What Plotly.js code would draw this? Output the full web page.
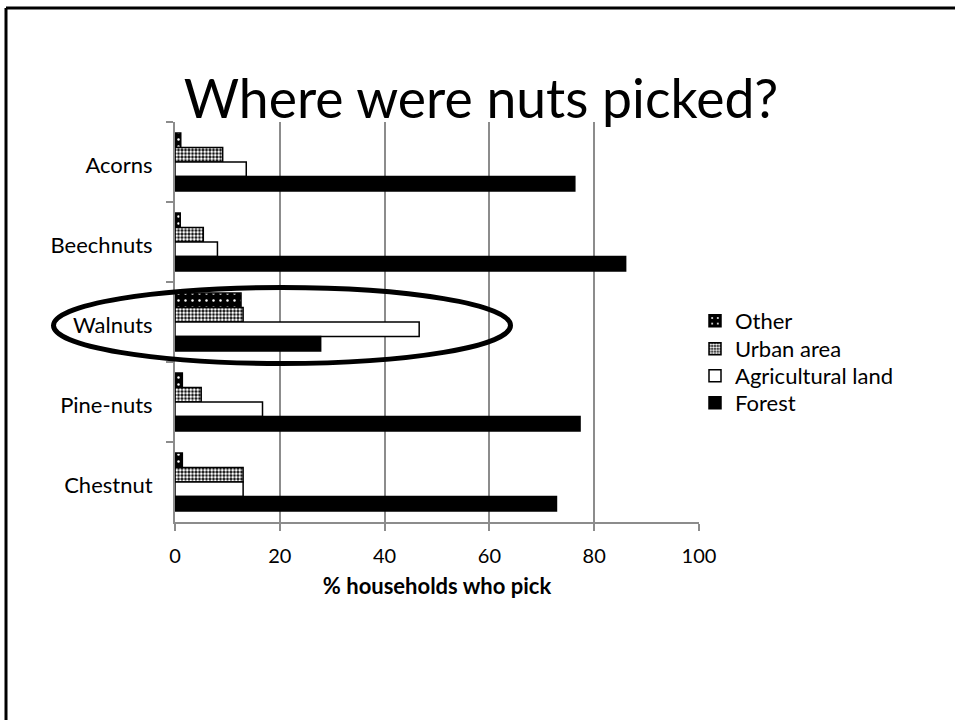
<!DOCTYPE html>
<html>
<head>
<meta charset="utf-8">
<script src="https://cdn.plot.ly/plotly-3.0.1.min.js"></script>
<style>
  html, body { margin: 0; padding: 0; background: #fff; }
  #chart { width: 955px; height: 720px; }
</style>
</head>
<body>
<div id="chart"></div>
<script>
// Nut types, top to bottom
const categories = ['Acorns', 'Beechnuts', 'Walnuts', 'Pine-nuts', 'Chestnut'];

// % of households picking each nut, by place of picking
const otherVals = [1.1, 1.0, 12.6, 1.4, 1.4];
const urbanVals = [9.1, 5.4, 13.0, 5.0, 13.0];
const agriVals = [13.6, 8.1, 46.6, 16.7, 13.0];
const forestVals = [76.3, 86.0, 27.8, 77.3, 72.8];

const xTickVals = [0, 20, 40, 60, 80, 100];

const FONT = 'Lato, "Open Sans", sans-serif';
const outline = { color: '#000', width: 1.5 };

// each series gets its own legend box so the entries can sit closer together
const traces = [
  {
    name: 'Other', x: otherVals, y: categories, type: 'bar', orientation: 'h',
    legend: 'legend',
    marker: { color: '#000', line: outline,
      pattern: { shape: '.', fgcolor: '#fff', bgcolor: '#000', size: 7, solidity: 0.1 } }
  },
  {
    name: 'Urban area', x: urbanVals, y: categories, type: 'bar', orientation: 'h',
    legend: 'legend2',
    marker: { color: '#000', line: outline,
      pattern: { shape: '.', fgcolor: '#fff', bgcolor: '#000', size: 3.5, solidity: 0.55 } }
  },
  {
    name: 'Agricultural land', x: agriVals, y: categories, type: 'bar', orientation: 'h',
    legend: 'legend3',
    marker: { color: '#fff', line: outline }
  },
  {
    name: 'Forest', x: forestVals, y: categories, type: 'bar', orientation: 'h',
    legend: 'legend4',
    marker: { color: '#000', line: outline }
  }
];

// plot-area geometry in pixels, used to place the frame, legend and highlight ellipse
const L = 175, T = 122, W = 524, H = 400;
const px = v => (v - L) / W;
const py = v => (T + H - v) / H;

const legendBox = centre => ({
  x: px(695), xanchor: 'left', y: py(centre - 21), yanchor: 'top',
  font: { size: 22 }, bgcolor: 'rgba(0,0,0,0)', borderwidth: 0, visible: true
});

const layout = {
  width: 955, height: 720,
  margin: { l: L, r: 955 - L - W, t: T, b: 720 - T - H },
  paper_bgcolor: '#fff', plot_bgcolor: '#fff',
  font: { family: FONT, color: '#000', size: 20 },
  showlegend: true,
  title: {
    text: 'Where were nuts picked?',
    font: { family: FONT, size: 53.5, color: '#000' },
    x: 481 / 955, xanchor: 'center', xref: 'container',
    y: 1 - 99 / 720, yanchor: 'middle', yref: 'container'
  },
  barmode: 'group', bargap: 0.275, bargroupgap: 0,
  xaxis: {
    range: [0, 100], tickvals: xTickVals, ticktext: xTickVals.map(String),
    showgrid: true, gridcolor: '#8c8c8c', gridwidth: 2,
    showline: true, linecolor: '#8c8c8c', linewidth: 2,
    ticks: 'outside', ticklen: 7, tickwidth: 2, tickcolor: '#8c8c8c',
    zeroline: false, tickfont: { size: 20 }, ticklabelstandoff: 8,
    title: { text: '<b>% households who pick</b>', font: { size: 22 }, standoff: 13 }
  },
  yaxis: {
    type: 'category', categoryarray: categories, categoryorder: 'array',
    autorange: 'reversed', tickson: 'boundaries',
    showline: true, linecolor: '#8c8c8c', linewidth: 2,
    ticks: 'outside', ticklen: 7, tickwidth: 2, tickcolor: '#8c8c8c',
    showgrid: false, zeroline: false, tickfont: { size: 22 },
    ticklabelstandoff: 16, ticklabelshift: -3
  },
  legend: legendBox(321),
  legend2: legendBox(349),
  legend3: legendBox(376),
  legend4: legendBox(403),
  shapes: [
    // slide frame: top and left edges
    { type: 'line', xref: 'paper', yref: 'paper', x0: px(6), x1: px(955), y0: py(8), y1: py(8),
      line: { color: '#000', width: 3 } },
    { type: 'line', xref: 'paper', yref: 'paper', x0: px(6), x1: px(6), y0: py(8), y1: py(720),
      line: { color: '#000', width: 3 } },
    // ellipse around the Walnuts group
    { type: 'circle', xref: 'paper', yref: 'paper',
      x0: px(53.5), x1: px(510.5), y0: py(363.5), y1: py(287.5),
      line: { color: '#000', width: 5 }, fillcolor: 'rgba(0,0,0,0)', layer: 'above' }
  ]
};

Plotly.newPlot('chart', traces, layout, { staticPlot: true, displayModeBar: false });
</script>
</body>
</html>
